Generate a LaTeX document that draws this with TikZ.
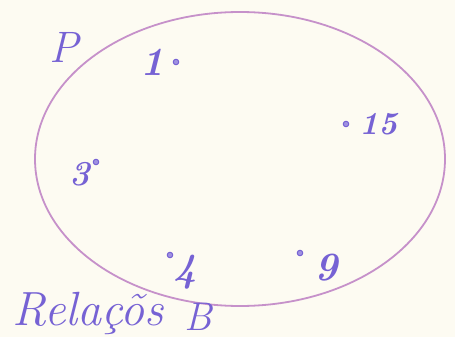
\documentclass[tikz,border=0pt]{standalone}
\usepackage{tikz}
\usetikzlibrary{positioning}
\definecolor{paper}{RGB}{253,251,242}
\definecolor{ink}{RGB}{118,98,212}
\definecolor{loopink}{RGB}{198,145,202}

\begin{document}
\begin{tikzpicture}[x=1pt, y=-1pt,
  dotpt/.style={circle, draw=ink, fill=ink!70, line width=1pt, inner sep=0pt, minimum size=5.5pt},
  num/.style={ink, inner sep=0pt, font=\fontsize{40}{40}\selectfont\bfseries\itshape}]
% paper (fixes the margins)
\fill[paper] (0,0) rectangle (455,337);
\useasboundingbox (0,0) rectangle (455,337);
% the set, drawn first
\draw[loopink, line width=1.8pt] (240,159) ellipse [x radius=205, y radius=147];
% set name
\node[ink, inner sep=0pt, font=\fontsize{44}{44}\selectfont\itshape] (setP) at (64,47) {P};
% elements
\node[dotpt] (d1) at (176,62) {};
\node[num, left=8pt of d1] (n1) {1};
\node[dotpt] (d15) at (346,124) {};
\node[num, right=10pt of d15, font=\fontsize{32}{32}\selectfont\bfseries\itshape] (n15) {15};
\node[dotpt] (d3) at (96,162) {};
\node[num, font=\fontsize{35}{35}\selectfont\bfseries\itshape] (n3) at (80,174) {3};
\node[dotpt] (d4) at (170,255) {};
\node[num] (n4) at (185,272) {4};
\node[dotpt] (d9) at (300,253) {};
\node[num] (n9) at (326,268) {9};
% caption
\node[ink, inner sep=0pt, anchor=base west, font=\fontsize{48}{48}\selectfont\itshape] (rel) at (12,325) {Relaçõs};
\node[ink, inner sep=0pt, anchor=base west, font=\fontsize{40}{40}\selectfont\itshape] (relB) at (184,330) {B};
\end{tikzpicture}
\end{document}
